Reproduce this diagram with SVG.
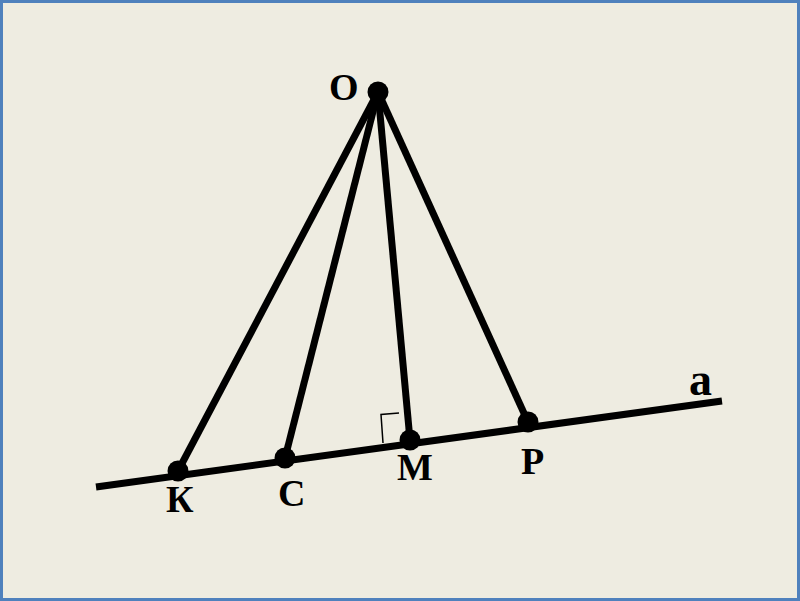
<svg xmlns="http://www.w3.org/2000/svg" width="800" height="601" viewBox="0 0 800 601">
<style>
.ln{stroke:#000;stroke-width:7;stroke-linecap:butt;fill:none}
.dot{fill:#000}
.lbl{font-family:"Liberation Serif","Times New Roman",serif;font-weight:bold;font-size:38px;fill:#000}
</style>
<rect x="1.5" y="1.5" width="797" height="598" fill="#EEECE1" stroke="#4F81BD" stroke-width="3"/>
<g id="connectors">
<line class="ln" x1="96" y1="487" x2="722" y2="401"/>
<line class="ln" x1="378" y1="92" x2="178" y2="471"/>
<line class="ln" x1="378" y1="92" x2="285" y2="458"/>
<line class="ln" x1="378" y1="92" x2="410" y2="440"/>
<line class="ln" x1="378" y1="92" x2="528" y2="422"/>
<path d="M399 413 L381 414.5 L383 443" fill="none" stroke="#000" stroke-width="1.5"/>
</g>
<g id="O"><circle class="dot" cx="378" cy="92" r="10.5"/><text class="lbl" x="329" y="100">О</text></g>
<g id="K"><circle class="dot" cx="178" cy="471" r="10.5"/><text class="lbl" x="166" y="512">К</text></g>
<g id="C"><circle class="dot" cx="285" cy="458" r="10.5"/><text class="lbl" x="278" y="506">С</text></g>
<g id="M"><circle class="dot" cx="410" cy="440" r="10.5"/><text class="lbl" x="397" y="480">М</text></g>
<g id="P"><circle class="dot" cx="528" cy="422" r="10.5"/><text class="lbl" x="521" y="474">Р</text></g>
<g id="a"><text class="lbl" x="689" y="395" style="font-size:46px">а</text></g>
</svg>
